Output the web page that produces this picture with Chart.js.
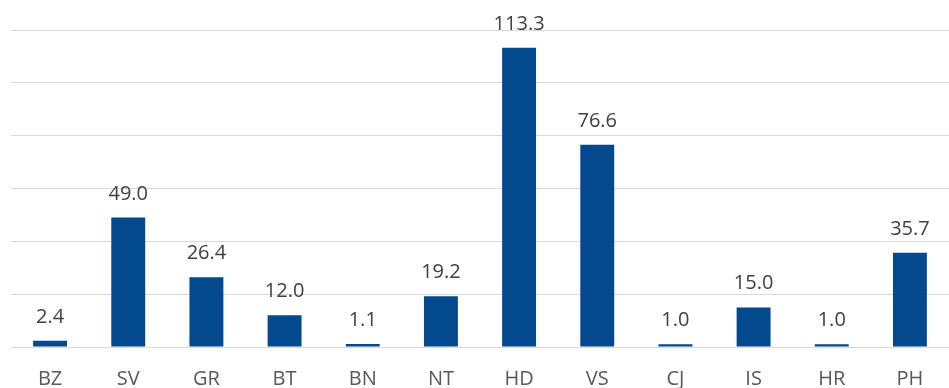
<!DOCTYPE html>
<html>
<head>
<meta charset="utf-8">
<script src="https://cdn.jsdelivr.net/npm/chart.js@4/dist/chart.umd.min.js"></script>
<style>
  html, body { margin: 0; padding: 0; background: #ffffff; }
  #wrap { width: 949px; height: 388px; }
</style>
</head>
<body>
<div id="wrap"><canvas id="barChart" width="949" height="388"></canvas></div>
<script>
const categories = ["BZ", "SV", "GR", "BT", "BN", "NT", "HD", "VS", "CJ", "IS", "HR", "PH"];
const values = [2.4, 49.0, 26.4, 12.0, 1.1, 19.2, 113.3, 76.6, 1.0, 15.0, 1.0, 35.7];

// simple value labels above each bar
const valueLabels = {
  id: "valueLabels",
  afterDatasetsDraw(chart) {
    const ctx = chart.ctx;
    const meta = chart.getDatasetMeta(0);
    ctx.save();
    ctx.font = "20px 'Open Sans'";
    ctx.fillStyle = "#404040";
    ctx.textAlign = "center";
    ctx.textBaseline = "alphabetic";
    meta.data.forEach(function (bar, i) {
      ctx.fillText(values[i].toFixed(1), bar.x, bar.y - 18);
    });
    ctx.restore();
  }
};

const ctx = document.getElementById("barChart").getContext("2d");

new Chart(ctx, {
  type: "bar",
  data: {
    labels: categories,
    datasets: [
      {
        data: values,
        backgroundColor: "#02498E",
        borderWidth: 0,
        barPercentage: 0.434,
        categoryPercentage: 1
      }
    ]
  },
  options: {
    responsive: false,
    animation: false,
    layout: { padding: { left: 11, right: 0, top: 30, bottom: 0 } },
    plugins: {
      legend: { display: false },
      tooltip: { enabled: false }
    },
    scales: {
      x: {
        grid: { display: false, drawTicks: false },
        border: { display: false },
        ticks: {
          padding: 20,
          color: "#595959",
          font: { family: "'Open Sans'", size: 20 }
        },
        afterFit(scale) {
          scale.height = 41;
        }
      },
      y: {
        min: 0,
        max: 120,
        ticks: { display: false, stepSize: 20 },
        grid: { color: "#D9D9D9", lineWidth: 1, drawTicks: false },
        border: { display: false }
      }
    }
  },
  plugins: [valueLabels]
});
</script>
</body>
</html>
